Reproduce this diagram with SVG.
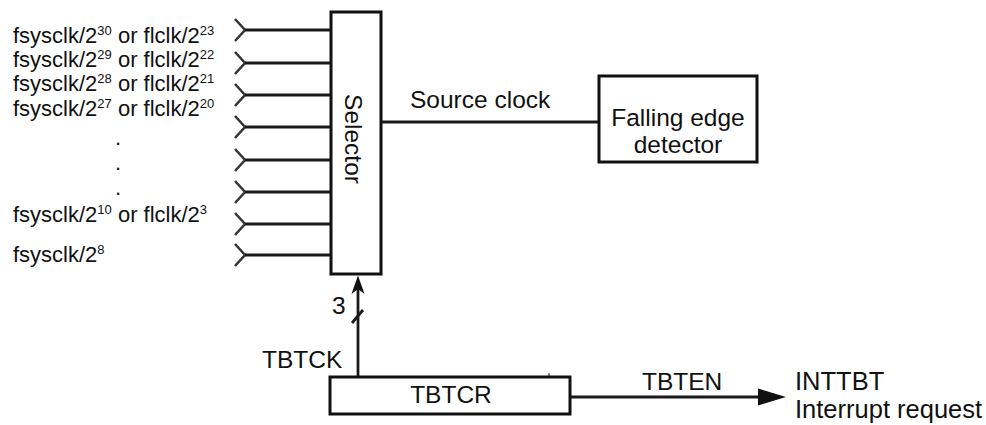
<svg xmlns="http://www.w3.org/2000/svg" width="986" height="425" viewBox="0 0 986 425">
<defs>
<style>
.t{font-family:"Liberation Sans",Arial,Helvetica,sans-serif;fill:#111;}
.lbl{font-size:22px;}
.big{font-size:24.5px;}
.bigger{font-size:25.5px;}
.sup{font-size:13px;}
.box{fill:#fff;stroke:#111;stroke-width:3;}
.ln{fill:none;stroke:#1a1a1a;stroke-width:2.8;}
.chev{fill:none;stroke:#333;stroke-width:2.5;stroke-linejoin:miter;}
.head{fill:#111;}
</style>
</defs>
<rect width="986" height="425" fill="#fff"/>

<g id="input-labels" class="t lbl">
<text x="13" y="43">fsysclk/2<tspan class="sup" dy="-8">30</tspan><tspan dy="8"> or flclk/2</tspan><tspan class="sup" dy="-8">23</tspan></text>
<text x="13" y="67">fsysclk/2<tspan class="sup" dy="-8">29</tspan><tspan dy="8"> or flclk/2</tspan><tspan class="sup" dy="-8">22</tspan></text>
<text x="13" y="91">fsysclk/2<tspan class="sup" dy="-8">28</tspan><tspan dy="8"> or flclk/2</tspan><tspan class="sup" dy="-8">21</tspan></text>
<text x="13" y="116">fsysclk/2<tspan class="sup" dy="-8">27</tspan><tspan dy="8"> or flclk/2</tspan><tspan class="sup" dy="-8">20</tspan></text>
<text x="115" y="145">.</text>
<text x="115" y="170">.</text>
<text x="115" y="195">.</text>
<text x="13" y="222">fsysclk/2<tspan class="sup" dy="-8">10</tspan><tspan dy="8"> or flclk/2</tspan><tspan class="sup" dy="-8">3</tspan></text>
<text x="13" y="262">fsysclk/2<tspan class="sup" dy="-8">8</tspan></text>
</g>

<g id="connectors">
<g id="inputs">
<polyline class="chev" points="235,19 245,30 235,41"/><line class="ln" x1="245" y1="30" x2="331" y2="30"/>
<polyline class="chev" points="235,52 245,63 235,74"/><line class="ln" x1="245" y1="63" x2="331" y2="63"/>
<polyline class="chev" points="235,84 245,95 235,106"/><line class="ln" x1="245" y1="95" x2="331" y2="95"/>
<polyline class="chev" points="235,116 245,127 235,138"/><line class="ln" x1="245" y1="127" x2="331" y2="127"/>
<polyline class="chev" points="235,149 245,160 235,171"/><line class="ln" x1="245" y1="160" x2="331" y2="160"/>
<polyline class="chev" points="235,181 245,192 235,203"/><line class="ln" x1="245" y1="192" x2="331" y2="192"/>
<polyline class="chev" points="235,213 245,224 235,235"/><line class="ln" x1="245" y1="224" x2="331" y2="224"/>
<polyline class="chev" points="235,244 245,255 235,266"/><line class="ln" x1="245" y1="255" x2="331" y2="255"/>
</g>
<line id="source-clock" class="ln" x1="381" y1="122" x2="599" y2="122"/>
<line id="tbtck" class="ln" x1="358" y1="377" x2="358" y2="288"/>
<polygon class="head" points="358,275.5 364.5,294 358,289 351.5,294"/>
<line id="bus-slash" class="ln" x1="352" y1="323" x2="363" y2="310" stroke-width="2"/>
<line id="tbten" class="ln" x1="570" y1="397" x2="760" y2="397" stroke-width="3"/>
<polygon class="head" points="758,388.5 786,397 758,405.5"/>
<line x1="549" y1="373" x2="549" y2="377" stroke="#555" stroke-width="1.5"/>
</g>

<g id="selector">
<rect class="box" x="331" y="12" width="50" height="262"/>
<text class="t big" transform="translate(345 139) rotate(90)" text-anchor="middle">Selector</text>
</g>

<g id="falling-edge-detector">
<rect class="box" x="599" y="76" width="158" height="86"/>
<text class="t big" x="678" y="126" text-anchor="middle">Falling edge</text>
<text class="t big" x="678" y="153" text-anchor="middle">detector</text>
</g>

<g id="tbtcr">
<rect class="box" x="330" y="377" width="240" height="37"/>
<text class="t big" x="451" y="403" text-anchor="middle">TBTCR</text>
</g>

<g id="labels" class="t big">
<text x="410" y="108">Source clock</text>
<text x="332" y="314">3</text>
<text x="262" y="368">TBTCK</text>
<text x="642" y="390">TBTEN</text>
</g>

<g id="inttbt" class="t bigger">
<text x="795" y="390">INTTBT</text>
<text x="795" y="418">Interrupt request</text>
</g>
</svg>
